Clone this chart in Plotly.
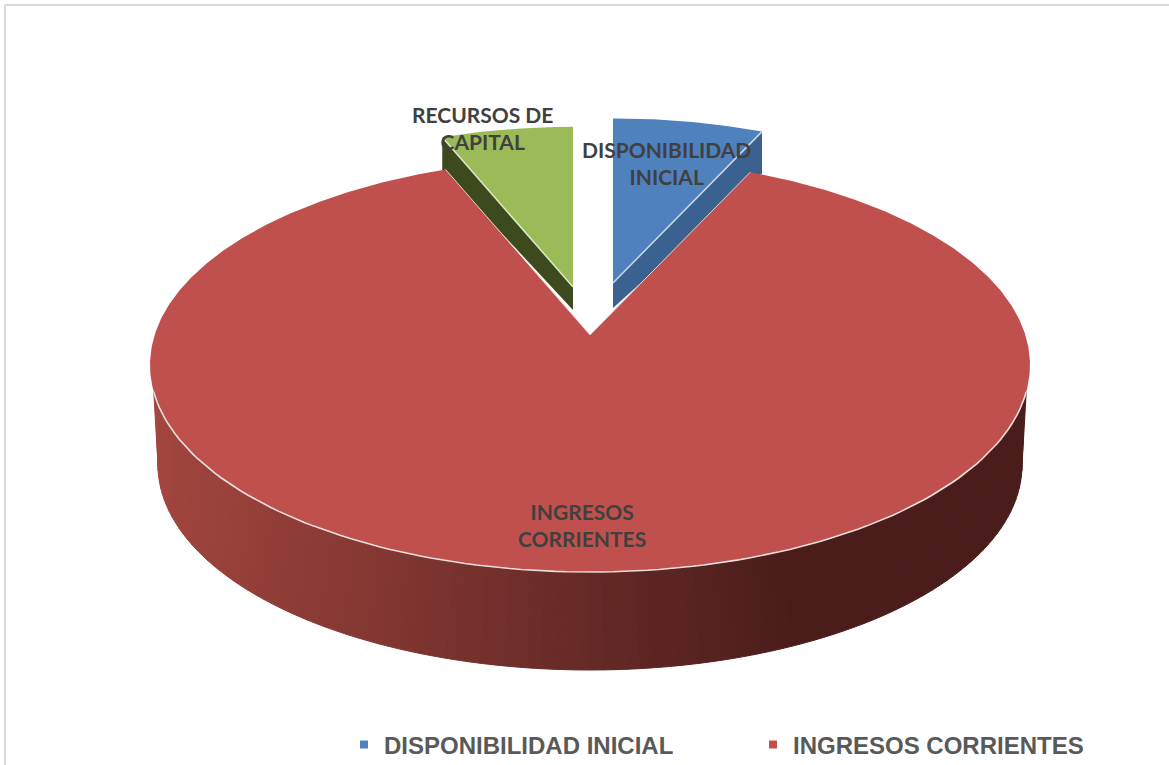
import numpy as np
import plotly.graph_objects as go

# Data
categories = ["DISPONIBILIDAD INICIAL", "INGRESOS CORRIENTES", "RECURSOS DE CAPITAL"]
shares = [6.9, 86.9, 6.2]
chart_labels = ["DISPONIBILIDAD<br>INICIAL", "INGRESOS<br>CORRIENTES", "RECURSOS DE<br>CAPITAL"]
legend_names = ["DISPONIBILIDAD INICIAL", "INGRESOS CORRIENTES"]

# Projection of the tilted disc on to the page
W, H = 1169, 765
CX, CY, RX, RY = 590.0, 365.0, 440.0, 207.0
APEX = np.array([590.0, 335.0])
BOT_CY, BOT_RX, BOT_RY = 465.0, 432.0, 205.0

COL_TOP = {"blue": "#4F81BD", "red": "#C0504D", "green": "#9BBB59"}
COL_WALL = {"blue": "#3A618F", "green": "#3D4A1E"}
TEXT = "#404040"
LEG = "#595959"


def rim(a_deg):
    """Point on the top ellipse for a clock angle seen from the apex."""
    a = np.radians(a_deg)
    d = np.array([np.sin(a), -np.cos(a)])
    p0 = np.array([(APEX[0] - CX) / RX, (APEX[1] - CY) / RY])
    b = p0 @ d
    t = -b + np.sqrt(b * b - (p0 @ p0 - 1))
    q = p0 + t * d
    return np.array([CX + RX * q[0], CY + RY * q[1]])


def sector(a0, a1, apex, scale):
    aa = np.linspace(a0, a1, max(3, int(abs(a1 - a0) * 2)))
    pts = np.array([APEX + (rim(v) - APEX) * scale + (apex - APEX) for v in aa])
    return pts


def poly(fig, xs, ys, color, name="", line=None, lw=0.0):
    fig.add_trace(go.Scatter(
        x=list(xs), y=list(ys), mode="lines", fill="toself", fillcolor=color,
        line=dict(color=line or color, width=lw), showlegend=False,
        name=name, hoverinfo="name"))


# Clock angles from the shares: the chart starts at 12 o'clock
edges = np.cumsum([0] + [v * 3.6 for v in shares])
blue_a = (edges[0], edges[1])
red_a = (edges[1], edges[2])
green_a = (edges[2], edges[3])

fig = go.Figure()

# Frame (top and left only are visible)
fig.add_shape(type="line", x0=5, x1=W, y0=5, y1=5, line=dict(color="#D9D9D9", width=2))
fig.add_shape(type="line", x0=5, x1=5, y0=5, y1=H, line=dict(color="#D9D9D9", width=2))

# Side wall with left to right gradient
N = 110
phi = np.radians(np.linspace(172.5, 7.5, N + 1))
psi = np.radians(np.linspace(180.0, 0.0, N + 1))
c0, c1 = np.array([163, 70, 63]), np.array([74, 29, 27])
tx, ty = CX + RX * np.cos(phi), CY + RY * np.sin(phi)
bx, by = CX + BOT_RX * np.cos(psi), BOT_CY + BOT_RY * np.sin(psi)
for i in range(N):
    xm = (tx[i] + tx[i + 1]) / 2
    f = np.clip((xm - 160) / (790 - 160), 0, 1)
    c = c0 + (c1 - c0) * f
    col = "rgb(%d,%d,%d)" % tuple(c)
    poly(fig, [tx[i], tx[i + 1], bx[i + 1], bx[i], tx[i]],
         [ty[i], ty[i + 1], by[i + 1], by[i], ty[i]], col, categories[1], col, 1)

# Exploded slices
blue_apex, blue_scale = np.array([613.0, 283.0]), 0.93
green_apex, green_scale = np.array([573.0, 287.0]), 0.905
blue = sector(*blue_a, blue_apex, blue_scale)
green = sector(*green_a, green_apex, green_scale)

# Cut walls behind the main slice
e = blue[-1]
poly(fig, [blue_apex[0], e[0], e[0], blue_apex[0], blue_apex[0]],
     [blue_apex[1], e[1], e[1] + 42, blue_apex[1] + 25, blue_apex[1]], COL_WALL["blue"], categories[0])
e = green[0]
poly(fig, [green_apex[0], e[0], e[0], green_apex[0], green_apex[0]],
     [green_apex[1], e[1], e[1] + 32, green_apex[1] + 23, green_apex[1]], COL_WALL["green"], categories[2])

# Main slice
red = sector(*red_a, APEX, 1.0)
poly(fig, [APEX[0], *red[:, 0], APEX[0]], [APEX[1], *red[:, 1], APEX[1]], COL_TOP["red"], categories[1])

# Top faces of the exploded slices
poly(fig, [green_apex[0], *green[:, 0], green_apex[0]], [green_apex[1], *green[:, 1], green_apex[1]],
     COL_TOP["green"], categories[2])
poly(fig, [blue_apex[0], *blue[:, 0], blue_apex[0]], [blue_apex[1], *blue[:, 1], blue_apex[1]],
     COL_TOP["blue"], categories[0])

# Pale bevel lines
fig.add_trace(go.Scatter(x=[blue_apex[0], blue[-1, 0]], y=[blue_apex[1], blue[-1, 1]], mode="lines",
                         line=dict(color="#C9D8EA", width=1.5), showlegend=False, hoverinfo="skip"))
fig.add_trace(go.Scatter(x=[green_apex[0], green[0, 0]], y=[green_apex[1], green[0, 1]], mode="lines",
                         line=dict(color="#DDE8C8", width=1.5), showlegend=False, hoverinfo="skip"))
fig.add_trace(go.Scatter(x=[APEX[0], red[0, 0]], y=[APEX[1], red[0, 1]], mode="lines",
                         line=dict(color="#E9CFCD", width=1), showlegend=False, hoverinfo="skip"))
fig.add_trace(go.Scatter(x=[APEX[0], red[-1, 0]], y=[APEX[1], red[-1, 1]], mode="lines",
                         line=dict(color="#E9CFCD", width=1), showlegend=False, hoverinfo="skip"))
fig.add_trace(go.Scatter(x=tx, y=ty, mode="lines", line=dict(color="#EADFDD", width=1.6),
                         showlegend=False, hoverinfo="skip"))

# Legend entries
for nm, col in zip(legend_names, [COL_TOP["blue"], COL_TOP["red"]]):
    fig.add_trace(go.Scatter(x=[None], y=[None], mode="markers", name=nm,
                             marker=dict(symbol="square", size=8, color=col)))

# Slice labels
label_pos = [(666, 163), (582, 525), (482, 128)]
for txt, (x, y) in zip(chart_labels, label_pos):
    fig.add_annotation(x=x, y=y, text=txt, showarrow=False, align="center",
                       font=dict(family="Lato", size=21, color=TEXT, weight="bold"))

fig.update_layout(
    width=W, height=H, autosize=False,
    margin=dict(l=0, r=0, t=0, b=0, autoexpand=False),
    paper_bgcolor="white", plot_bgcolor="white",
    xaxis=dict(range=[0, W], visible=False, fixedrange=True),
    yaxis=dict(range=[H, 0], visible=False, fixedrange=True),
    legend=dict(orientation="h", x=344 / W, xref="paper", y=1 - 745 / H, yref="paper",
                xanchor="left", yanchor="middle", bgcolor="rgba(0,0,0,0)",
                font=dict(family="Liberation Sans", size=24, color=LEG, weight="bold"),
                entrywidth=364, entrywidthmode="pixels", itemsizing="trace", tracegroupgap=0),
    hovermode="closest",
)
fig.write_html("out.html", config={"displayModeBar": False},
               post_script="document.body.style.margin='0';")
